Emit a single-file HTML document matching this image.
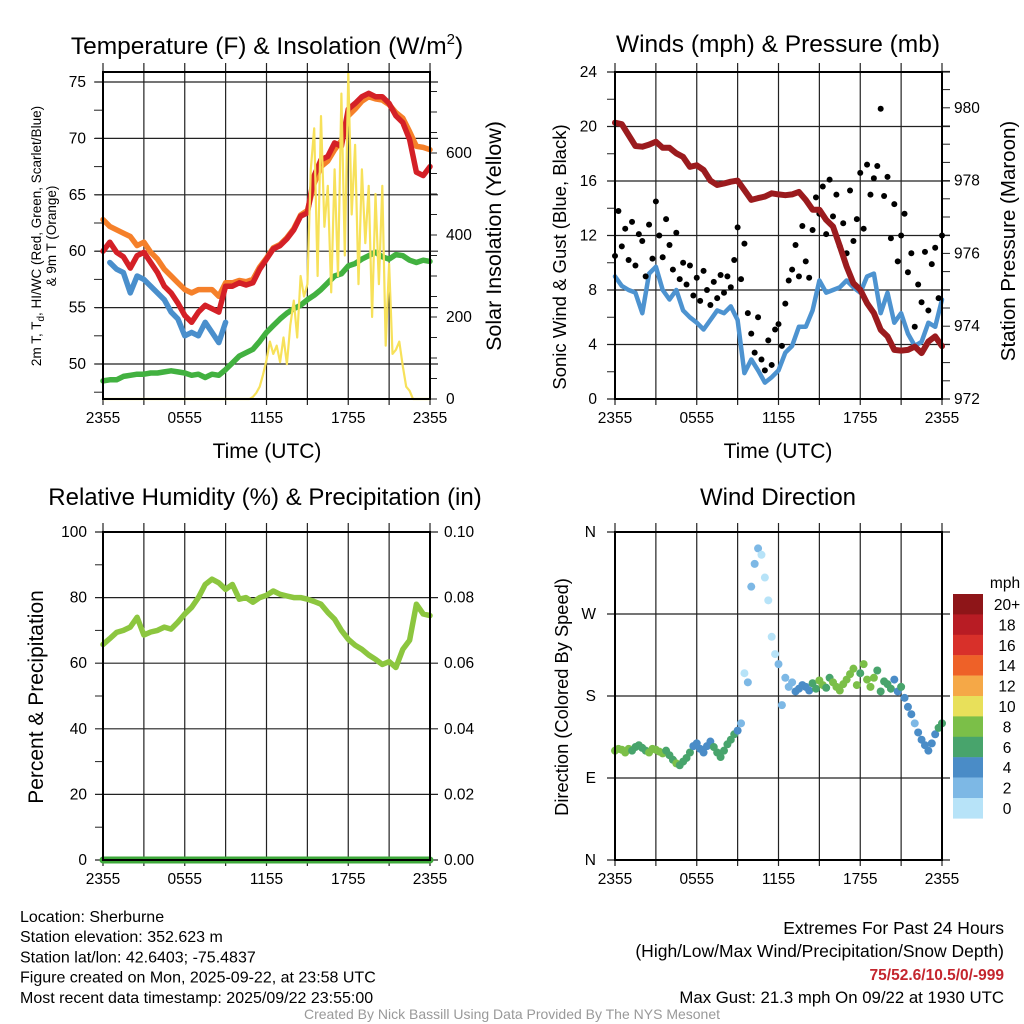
<!DOCTYPE html>
<html><head><meta charset="utf-8"><style>
html,body{margin:0;padding:0;background:#fff;}
svg{display:block;font-family:"Liberation Sans",Arial,sans-serif;}
</style></head><body>
<svg id="chart" width="1024" height="1024" viewBox="0 0 1024 1024" xmlns="http://www.w3.org/2000/svg"></svg>
<script>
// ---- data (every 30 min from 2355 UTC, 49 points) ----
const timeTicks = ["2355","0555","1155","1755","2355"];
const tempRed = [60.0,60.8,59.9,59.5,58.5,59.6,59.9,59.0,58.1,56.9,56.3,55.4,54.3,53.7,54.6,55.2,54.9,54.6,56.9,56.9,57.2,57.0,57.2,58.4,59.3,60.2,60.5,61.1,61.9,63.1,63.4,66.7,68.1,68.4,69.6,69.3,72.6,73.1,73.7,74.0,73.7,73.7,73.1,72.0,71.4,69.9,67.0,66.7,67.5];
const tempOrange = [62.8,62.2,61.9,61.6,61.3,60.5,60.8,59.9,59.3,58.4,57.8,57.2,56.6,56.3,56.6,56.6,56.6,56.0,57.2,57.2,57.4,57.3,57.5,58.6,59.4,60.3,60.6,61.2,62.0,63.2,63.6,66.0,67.5,68.0,69.0,69.8,72.0,72.6,73.3,73.7,73.5,73.4,73.0,72.3,71.8,70.6,69.3,69.2,69.0];
const tempBlue = [null,59.0,58.4,58.1,56.3,57.8,57.5,56.9,56.3,55.7,54.6,54.0,52.5,52.8,52.5,53.7,52.8,51.9,53.7].concat(Array(30).fill(null));
const dewGreen = [48.5,48.6,48.6,48.9,49.0,49.1,49.1,49.2,49.2,49.3,49.4,49.3,49.2,49.0,49.1,48.8,49.1,49.0,49.5,50.1,50.7,51.0,51.3,52.0,52.8,53.4,54.0,54.5,54.9,55.2,55.7,56.1,56.6,57.2,57.8,58.0,58.7,58.9,59.3,59.6,59.9,59.5,59.3,59.7,59.6,59.2,59.0,59.2,59.1];
// solar every 15 min (97 points)
const solar = [0,0,0,0,0,0,0,0,0,0,0,0,0,0,0,0,0,0,0,0,0,0,0,0,0,0,0,0,0,0,0,0,0,0,0,0,0,0,0,0,0,0,0,0,
 5,15,30,60,95,140,110,130,90,150,85,180,240,150,300,250,280,560,660,300,690,420,520,260,560,300,745,350,795,450,620,280,560,380,520,200,500,280,520,130,330,110,120,140,80,30,20,0,0,0,0,0,0];
const windSpeed = [9.0,8.3,8.0,7.8,6.3,9.2,9.7,8.0,7.3,8.0,6.5,6.0,5.6,5.1,5.8,6.5,6.3,6.8,5.8,1.9,2.9,2.1,1.2,1.6,2.1,3.4,3.9,5.3,5.3,6.5,8.7,7.8,8.0,8.2,8.7,8.2,7.8,9.0,9.2,6.3,7.8,5.6,6.3,4.8,3.9,4.2,5.6,5.3,7.3];
const pressure = [979.59,979.55,979.25,978.95,978.93,978.99,979.07,978.90,978.90,978.75,978.65,978.38,978.42,978.29,978.00,977.88,977.92,977.97,978.00,977.74,977.47,977.52,977.56,977.65,977.62,977.60,977.62,977.69,977.47,977.20,977.20,976.92,976.74,976.20,975.64,975.18,975.00,974.63,974.36,973.90,973.72,973.35,973.33,973.35,973.44,973.26,973.58,973.72,973.45];
// gusts every 15 min
const gusts = [10.5,13.8,11.2,12.5,10.2,13.0,9.8,12.1,11.6,9.0,12.8,10.3,14.5,12.0,10.4,13.2,11.3,9.5,12.2,8.8,10.0,8.4,9.8,7.6,8.9,7.2,9.4,8.0,6.9,8.6,7.4,9.1,7.8,9.0,8.2,10.2,12.6,8.8,11.4,6.3,4.8,3.4,6.0,2.9,2.1,4.3,2.5,5.1,5.5,3.9,7.0,8.7,9.5,11.3,9.0,12.7,10.1,8.9,12.4,14.8,13.6,15.6,12.1,16.1,13.4,15.0,11.2,12.9,10.7,15.3,11.6,13.2,16.6,12.5,17.2,15.0,16.2,17.1,21.3,14.9,16.3,11.8,14.3,10.1,12.0,13.6,9.3,10.7,5.3,8.4,7.1,10.8,6.5,9.9,11.1,7.4,12.0];
const relHum = [65.7,67.5,69.4,70.0,71.0,74.0,68.6,69.5,70.0,71.0,70.4,72.5,75.0,77.0,80.0,84.0,85.6,84.5,82.5,84.0,79.5,80.0,78.6,80.0,80.7,82.0,81.0,80.5,80.0,80.0,79.5,78.8,78.0,75.5,73.4,70.0,67.3,65.5,64.2,62.5,61.2,59.6,60.5,58.7,64.2,67.0,78.0,75.0,74.5];
const precip = [0,0,0,0,0,0,0,0,0,0,0,0,0,0,0,0,0,0,0,0,0,0,0,0,0,0,0,0,0,0,0,0,0,0,0,0,0,0,0,0,0,0,0,0,0,0,0,0,0];
// wind direction every 15 min (degrees)
const windDir = [120,122,121,118,122,120,124,126,123,120,118,122,121,119,117,120,115,110,106,104,108,112,118,125,128,122,118,125,130,124,118,113,120,127,132,138,142,150,205,195,300,325,342,335,310,285,245,226,215,170,200,190,195,185,188,192,190,186,194,188,197,192,189,200,195,190,186,193,198,204,210,192,205,215,198,190,200,208,185,196,193,188,198,185,190,178,168,160,150,140,132,126,120,128,138,145,150];
const speedLabels = ["20+","18","16","14","12","10","8","6","4","2","0"];
const speedColors = ["#8e1518","#b81c24","#d8302a","#ee6128","#f5a847","#e8e05a","#7bbf48","#48a46c","#4a8cc7","#7db8e5","#b7e3f8"];

const NS="http://www.w3.org/2000/svg";
const svg=document.getElementById('chart');
function mk(tag,attrs,parent){const e=document.createElementNS(NS,tag);for(const k in attrs)e.setAttribute(k,attrs[k]);(parent||svg).appendChild(e);return e;}
function txt(s,x,y,size,anchor,parent,extra){const t=mk('text',Object.assign({x:x,y:y,'font-size':size,'text-anchor':anchor||'middle',fill:'#000'},extra||{}),parent);t.textContent=s;return t;}
function interp(arr,h){const i=h*2;const a=Math.floor(i),b=Math.min(arr.length-1,a+1);const f=i-a;return arr[a]*(1-f)+arr[b]*f;}

function panel(name,x0,x1,y0,y1){
  const g=mk('g',{});
  
  
  const xs=h=>x0+h/24*(x1-x0);
  for(let h=0;h<=24;h+=3){
    const l=mk('line',{x1:xs(h),x2:xs(h),y1:y0-9,y2:y1+6,stroke:'#222','stroke-width':1.2},g);
    
    
  }
  timeTicks.forEach((s,i)=>{
    const t=txt(s,xs(i*6),y1+24,15.5,'middle',g);
    
    
  });
  return {g,xs};
}
function hline(g,y,x0,x1,name){const l=mk('line',{x1:x0-8,x2:x1+8,y1:y,y2:y,stroke:'#222','stroke-width':1.2},g);
  
  }
function tick(g,x,y,len){mk('line',{x1:x,x2:x+len,y1:y,y2:y,stroke:'#222','stroke-width':1},g);}
function box(g,x0,x1,y0,y1){const r=mk('rect',{x:x0,y:y0,width:x1-x0,height:y1-y0,fill:'none',stroke:'#000','stroke-width':2},g);
  
  }
function pathFrom(g,arr,step,xs,ys,color,w,name){
  let d='',pen=false;
  arr.forEach((v,i)=>{if(v===null){pen=false;return;}const x=xs(i*step),y=ys(v);d+=(pen?'L':'M')+x.toFixed(1)+' '+y.toFixed(1);pen=true;});
  const p=mk('path',{d:d,fill:'none',stroke:color,'stroke-width':w,'stroke-linejoin':'round','stroke-linecap':'round'},g);
  
  
  return p;
}

// ===== Panel 1: Temperature =====
(function(){
  const x0=103,x1=430,y0=72,y1=399;
  const {g,xs}=panel('temperature-panel',x0,x1,y0,y1);
  const yT=t=>82+(75-t)*11.28, yS=w=>399-w*0.41;
  for(let t=50;t<=75;t+=5)hline(g,yT(t),x0,x1,'y-gridline');
  for(let t=47.5;t<=75;t+=2.5)tick(g,x0,yT(t),-9);
  for(let w=0;w<=750;w+=50)tick(g,x1,yS(w),7);
  for(let t=50;t<=75;t+=5){const l=txt(String(t),86,yT(t)+5,15.5,'end',g);
    
    }
  for(let w=0;w<=600;w+=200){const l=txt(String(w),446,yS(w)+5,15.5,'start',g);
    
    }
  pathFrom(g,dewGreen,0.5,xs,yT,'#42b140',5.5,'dewpoint-line');
  pathFrom(g,tempOrange,0.5,xs,yT,'#f5802a',5.5,'temp-9m-line');
  pathFrom(g,tempBlue,0.5,xs,yT,'#4a8fcc',5.5,'windchill-line');
  pathFrom(g,tempRed,0.5,xs,yT,'#d42027',5.5,'temp-2m-line');
  pathFrom(g,solar,0.25,xs,yS,'#f7e15a',2.2,'solar-line');
  box(g,x0,x1,y0,y1);
  const t=txt('',267,54,24.5,'middle',g);
  t.innerHTML='Temperature (F) &amp; Insolation (W/m<tspan font-size="15" dy="-10">2</tspan><tspan dy="10">)</tspan>';
  const xl=txt('Time (UTC)',267,458,21,'middle',g);
  const yl=mk('text',{x:0,y:0,'font-size':13.5,'text-anchor':'middle',transform:'translate(41,236) rotate(-90)'},g);
  
  yl.innerHTML='2m T, T<tspan font-size="10" dy="3">d</tspan><tspan dy="-3">, HI/WC (Red, Green, Scarlet/Blue)</tspan>';
  const yl2=mk('text',{x:0,y:0,'font-size':13.5,'text-anchor':'middle',transform:'translate(56,236) rotate(-90)'},g);
  yl2.textContent='& 9m T (Orange)';
  const yr=mk('text',{x:0,y:0,'font-size':21.5,'text-anchor':'middle',transform:'translate(501,236) rotate(-90)'},g);
  yr.textContent='Solar Insolation (Yellow)';
})();

// ===== Panel 2: Winds =====
(function(){
  const x0=615,x1=942,y0=72,y1=399;
  const {g,xs}=panel('winds-panel',x0,x1,y0,y1);
  const yW=m=>399-m*13.625, yP=p=>399-(p-972)*36.4;
  for(let m=0;m<=24;m+=4)hline(g,yW(m),x0,x1,'y-gridline');
  for(let m=2;m<=22;m+=4)tick(g,x0,yW(m),-8);
  for(let p=972;p<=981;p+=0.5)tick(g,x1,yP(p),8);
  for(let m=0;m<=24;m+=4){const l=txt(String(m),597,yW(m)+5,15.5,'end',g);
    }
  for(let p=972;p<=980;p+=2){const l=txt(String(p),954,yP(p)+5,15.5,'start',g);
    }
  pathFrom(g,windSpeed,0.5,xs,yW,'#4d93d0',4.5,'wind-speed-line');
  gusts.forEach((v,i)=>{const c=mk('circle',{cx:xs(i*0.25),cy:yW(v),r:3,fill:'#000'},g);
    });
  pathFrom(g,pressure,0.5,xs,yP,'#9b1b1e',6,'pressure-line');
  box(g,x0,x1,y0,y1);
  const t=txt('Winds (mph) & Pressure (mb)',778,52,24.5,'middle',g);
  const xl=txt('Time (UTC)',778,458,21,'middle',g);
  const yl=mk('text',{x:0,y:0,'font-size':18.5,'text-anchor':'middle',transform:'translate(566,257) rotate(-90)'},g);
  yl.textContent='Sonic Wind & Gust (Blue, Black)';
  const yr=mk('text',{x:0,y:0,'font-size':20.5,'text-anchor':'middle',transform:'translate(1015,241) rotate(-90)'},g);
  yr.textContent='Station Pressure (Maroon)';
})();

// ===== Panel 3: RH =====
(function(){
  const x0=103,x1=430,y0=532,y1=860;
  const {g,xs}=panel('humidity-panel',x0,x1,y0,y1);
  const yR=r=>860-r*3.28, yPr=p=>860-p*3280;
  for(let r=0;r<=100;r+=20)hline(g,yR(r),x0,x1,'y-gridline');
  for(let r=10;r<=90;r+=20)tick(g,x0,yR(r),-8);
  for(let r=0;r<=100;r+=20){const l=txt(String(r),87,yR(r)+5,15.5,'end',g);
    }
  [0,0.02,0.04,0.06,0.08,0.10].forEach(p=>{const l=txt(p.toFixed(2),444,yPr(p)+5,15.5,'start',g);
    });
  pathFrom(g,relHum,0.5,xs,yR,'#8cc63f',5.5,'humidity-line');
  pathFrom(g,precip,0.5,xs,yPr,'#3da83a',7,'precip-line');
  box(g,x0,x1,y0,y1);
  const t=txt('Relative Humidity (%) & Precipitation (in)',265,505,24,'middle',g);
  const yl=mk('text',{x:0,y:0,'font-size':21,'text-anchor':'middle',transform:'translate(43,697) rotate(-90)'},g);
  yl.textContent='Percent & Precipitation';
})();

// ===== Panel 4: Wind direction =====
(function(){
  const x0=615,x1=942,y0=532,y1=860;
  const {g,xs}=panel('wind-direction-panel',x0,x1,y0,y1);
  const yD=d=>860-d*328/360;
  ["N","E","S","W","N"].forEach((s,i)=>{hline(g,yD(i*90),x0,x1,'y-gridline');
    const l=txt(s,596,yD(i*90)+5,15.5,'end',g);});
  windDir.forEach((d,i)=>{const h=i*0.25;const sp=interp(windSpeed,h);
    let bin=Math.min(10,Math.max(0,Math.floor(sp/2)));const col=speedColors[10-bin];
    const c=mk('circle',{cx:xs(h),cy:yD(d),r:4,fill:col},g);
    });
  box(g,x0,x1,y0,y1);
  const t=txt('Wind Direction',778,505,24,'middle',g);
  const yl=mk('text',{x:0,y:0,'font-size':18.3,'text-anchor':'middle',transform:'translate(568,697) rotate(-90)'},g);
  yl.textContent='Direction (Colored By Speed)';
  const lg=mk('g',{},svg);
  const lt=txt('mph',1005,588,15.5,'middle',lg);
  speedLabels.forEach((s,i)=>{const y=594+i*20.4;
    const r=mk('rect',{x:953,y:y,width:30,height:20.6,fill:speedColors[i]},lg);
    
    const l=txt(s,1007,y+16,15.5,'middle',lg);});
})();

// ===== footer text =====
const info=["Location: Sherburne","Station elevation: 352.623 m","Station lat/lon: 42.6403; -75.4837","Figure created on Mon, 2025-09-22, at 23:58 UTC","Most recent data timestamp: 2025/09/22 23:55:00"];
info.forEach((s,i)=>{const t=txt(s,20,922+i*20.2,16,'start');});
const ex1=txt('Extremes For Past 24 Hours',1004,934,17.5,'end');
const ex2=txt('(High/Low/Max Wind/Precipitation/Snow Depth)',1004,957,17.5,'end');
const ex3=txt('75/52.6/10.5/0/-999',1004,980,15.5,'end',svg,{fill:'#c4262e','font-weight':'bold'});
const ex4=txt('Max Gust: 21.3 mph On 09/22 at 1930 UTC',1004,1003,16.8,'end');
const cr=txt('Created By Nick Bassill Using Data Provided By The NYS Mesonet',512,1019,14,'middle',svg,{fill:'#999'});
</script>
</body></html>
